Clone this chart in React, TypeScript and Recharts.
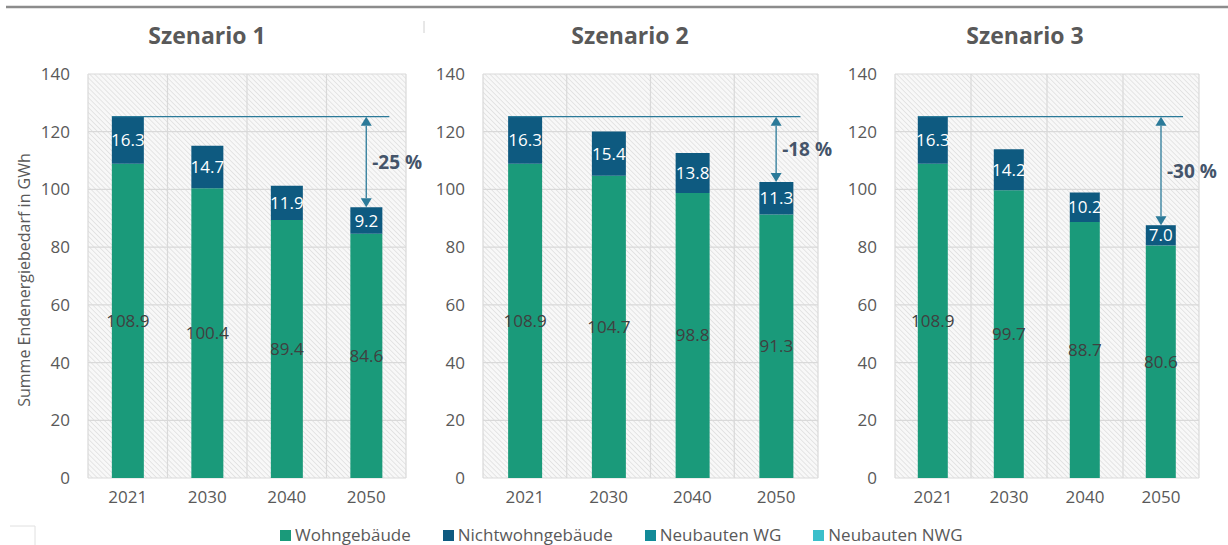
import React from 'react';
import { BarChart, Bar, XAxis, YAxis, CartesianGrid, ReferenceLine, LabelList } from 'recharts';

// ---------- data ----------
const years = ['2021', '2030', '2040', '2050'];
const wohngebaeudeS1 = [108.9, 100.4, 89.4, 84.6];
const nichtwohnS1 = [16.3, 14.7, 11.9, 9.2];
const wohngebaeudeS2 = [108.9, 104.7, 98.8, 91.3];
const nichtwohnS2 = [16.3, 15.4, 13.8, 11.3];
const wohngebaeudeS3 = [108.9, 99.7, 88.7, 80.6];
const nichtwohnS3 = [16.3, 14.2, 10.2, 7.0];
const neubautenWG = [0, 0, 0, 0];
const neubautenNWG = [0, 0, 0, 0];
const scenarioTitles = ['Szenario 1', 'Szenario 2', 'Szenario 3'];
const reductionLabels = ['-25 %', '-18 %', '-30 %'];
const yTicks = [0, 20, 40, 60, 80, 100, 120, 140];
const seriesNames = ['Wohngebäude', 'Nichtwohngebäude', 'Neubauten WG', 'Neubauten NWG'];
const seriesColors = ['#1A9A7A', '#0E5A80', '#128A98', '#3BBFCB'];
const yAxisTitle = 'Summe Endenergiebedarf in GWh';

const FONT = '"Open Sans", sans-serif';
const TEXT_GRAY = '#595959';
const LINE_BLUE = '#2B7A99';

const buildRows = (w: number[], n: number[]) =>
  years.map((y, i) => ({ year: y, wohn: w[i], nwg: n[i], neuWG: neubautenWG[i], neuNWG: neubautenNWG[i] }));

const scenarios = [
  { rows: buildRows(wohngebaeudeS1, nichtwohnS1), w: wohngebaeudeS1, n: nichtwohnS1 },
  { rows: buildRows(wohngebaeudeS2, nichtwohnS2), w: wohngebaeudeS2, n: nichtwohnS2 },
  { rows: buildRows(wohngebaeudeS3, nichtwohnS3), w: wohngebaeudeS3, n: nichtwohnS3 },
];

// layout of the three panels
const panels = [
  { left: 0, width: 420, yWidth: 88, right: 14, titleX: 207 },
  { left: 420, width: 412, yWidth: 63, right: 14, titleX: 630 },
  { left: 832, width: 396, yWidth: 63, right: 29, titleX: 1025 },
];

const CHART_H = 520;

const BaseLineShape = (props: any) => {
  const { x1, x2, y1 } = props;
  const band = (x2 - x1) / years.length;
  return <line x1={x1 + band * 0.3} x2={x2 - band * 0.21} y1={y1} y2={y1} stroke={LINE_BLUE} strokeWidth={1.2} />;
};

const ArrowShape = (props: any) => {
  const { x1, y1, y2, text } = props;
  const top = Math.min(y1, y2);
  const bottom = Math.max(y1, y2);
  const ah = 9;
  const aw = 5.5;
  return (
    <g>
      <line x1={x1} x2={x1} y1={top + ah} y2={bottom - ah} stroke={LINE_BLUE} strokeWidth={1.3} />
      <polygon points={`${x1},${top} ${x1 - aw},${top + ah} ${x1 + aw},${top + ah}`} fill={LINE_BLUE} />
      <polygon points={`${x1},${bottom} ${x1 - aw},${bottom - ah} ${x1 + aw},${bottom - ah}`} fill={LINE_BLUE} />
      <text
        x={x1 + 6}
        y={(top + bottom) / 2 + 7}
        fill="#44546A"
        fontFamily={FONT}
        fontWeight={700}
        fontSize={19}
      >
        {text}
      </text>
    </g>
  );
};

const Panel = ({ idx }: { idx: number }) => {
  const p = panels[idx];
  const s = scenarios[idx];
  const base = s.w[0] + s.n[0];
  const last = years.length - 1;
  const end = s.w[last] + s.n[last];
  return (
    <div style={{ position: 'absolute', left: p.left, top: 0 }}>
      <BarChart
        width={p.width}
        height={CHART_H}
        data={s.rows}
        margin={{ top: 74, right: p.right, left: 0, bottom: 12 }}
        barCategoryGap="30%"
      >
        <CartesianGrid
          stroke="#D9D9D9"
          strokeWidth={1.2}
          fill="url(#hatch)"
          fillOpacity={1}
          verticalCoordinatesGenerator={({ width, offset }: any) => {
            const left = offset.left;
            const w = offset.width ?? width - offset.left - offset.right;
            return [0, 1, 2, 3, 4].map((i) => left + (i * w) / 4);
          }}
        />
        <XAxis
          dataKey="year"
          axisLine={false}
          tickLine={false}
          tickSize={0}
          tickMargin={13}
          height={30}
          tick={{ fill: TEXT_GRAY, fontSize: 17, fontFamily: FONT }}
        />
        <YAxis
          domain={[0, 140]}
          ticks={yTicks}
          width={p.yWidth}
          axisLine={false}
          tickLine={false}
          tickSize={0}
          tickMargin={18}
          tick={{ fill: TEXT_GRAY, fontSize: 17, fontFamily: FONT }}
        />
        <Bar dataKey="wohn" stackId="a" fill={seriesColors[0]} isAnimationActive={false}>
          <LabelList
            dataKey="wohn"
            position="center"
            fill="#404040"
            fontSize={17}
            fontFamily={FONT}
            formatter={(v: any) => Number(v).toFixed(1)}
          />
        </Bar>
        <Bar dataKey="nwg" stackId="a" fill={seriesColors[1]} isAnimationActive={false}>
          <LabelList
            dataKey="nwg"
            position="center"
            fill="#FFFFFF"
            fontSize={17}
            fontFamily={FONT}
            formatter={(v: any) => Number(v).toFixed(1)}
          />
        </Bar>
        <Bar dataKey="neuWG" stackId="a" fill={seriesColors[2]} isAnimationActive={false} />
        <Bar dataKey="neuNWG" stackId="a" fill={seriesColors[3]} isAnimationActive={false} />
        <ReferenceLine y={base} shape={(lp: any) => <BaseLineShape {...lp} />} />
        <ReferenceLine
          segment={[
            { x: years[last], y: base },
            { x: years[last], y: end },
          ]}
          shape={(lp: any) => <ArrowShape {...lp} text={reductionLabels[idx]} />}
        />
      </BarChart>
    </div>
  );
};

export default function App() {
  return (
    <div style={{ position: 'absolute', left: 0, top: 0, width: 1228, height: 545, background: '#fff', fontFamily: FONT, overflow: 'hidden' }}>
      <style>{`.recharts-surface { overflow: visible; }`}</style>
      <svg width={1228} height={545} style={{ position: 'absolute', left: 0, top: 0 }}>
        <defs>
          <pattern id="hatch" patternUnits="userSpaceOnUse" width={3.5} height={3.5} patternTransform="rotate(-45)">
            <rect width={3.5} height={3.5} fill="#F8F8F8" />
            <line x1={0} y1={0} x2={0} y2={3.5} stroke="#D2D2D2" strokeWidth={1} />
          </pattern>
        </defs>
        <line x1={6} x2={1228} y1={7} y2={7} stroke="#8C8C8C" strokeWidth={2.5} />
        <line x1={424} x2={424} y1={21} y2={33} stroke="#D0D0D0" strokeWidth={1} />
        <polyline points="10,526 35,526 35,545" fill="none" stroke="#E0E0E0" strokeWidth={1} />
        {scenarioTitles.map((t, i) => (
          <text key={t} x={panels[i].titleX} y={44} textAnchor="middle" fill={TEXT_GRAY} fontFamily={FONT} fontWeight={700} fontSize={23}>
            {t}
          </text>
        ))}
        <text
          transform="translate(30,280) rotate(-90)"
          textAnchor="middle"
          fill={TEXT_GRAY}
          fontFamily={FONT}
          fontSize={16}
        >
          {yAxisTitle}
        </text>
      </svg>
      <Panel idx={0} />
      <Panel idx={1} />
      <Panel idx={2} />
      <div style={{ position: 'absolute', left: 280, top: 524, display: 'flex', alignItems: 'center', gap: 32 }}>
        {seriesNames.map((name, i) => (
          <div key={name} style={{ display: 'flex', alignItems: 'center' }}>
            <span style={{ display: 'inline-block', width: 11, height: 11, background: seriesColors[i], marginRight: 4 }} />
            <span style={{ fontSize: 17, color: TEXT_GRAY, lineHeight: '22px' }}>{name}</span>
          </div>
        ))}
      </div>
    </div>
  );
}
